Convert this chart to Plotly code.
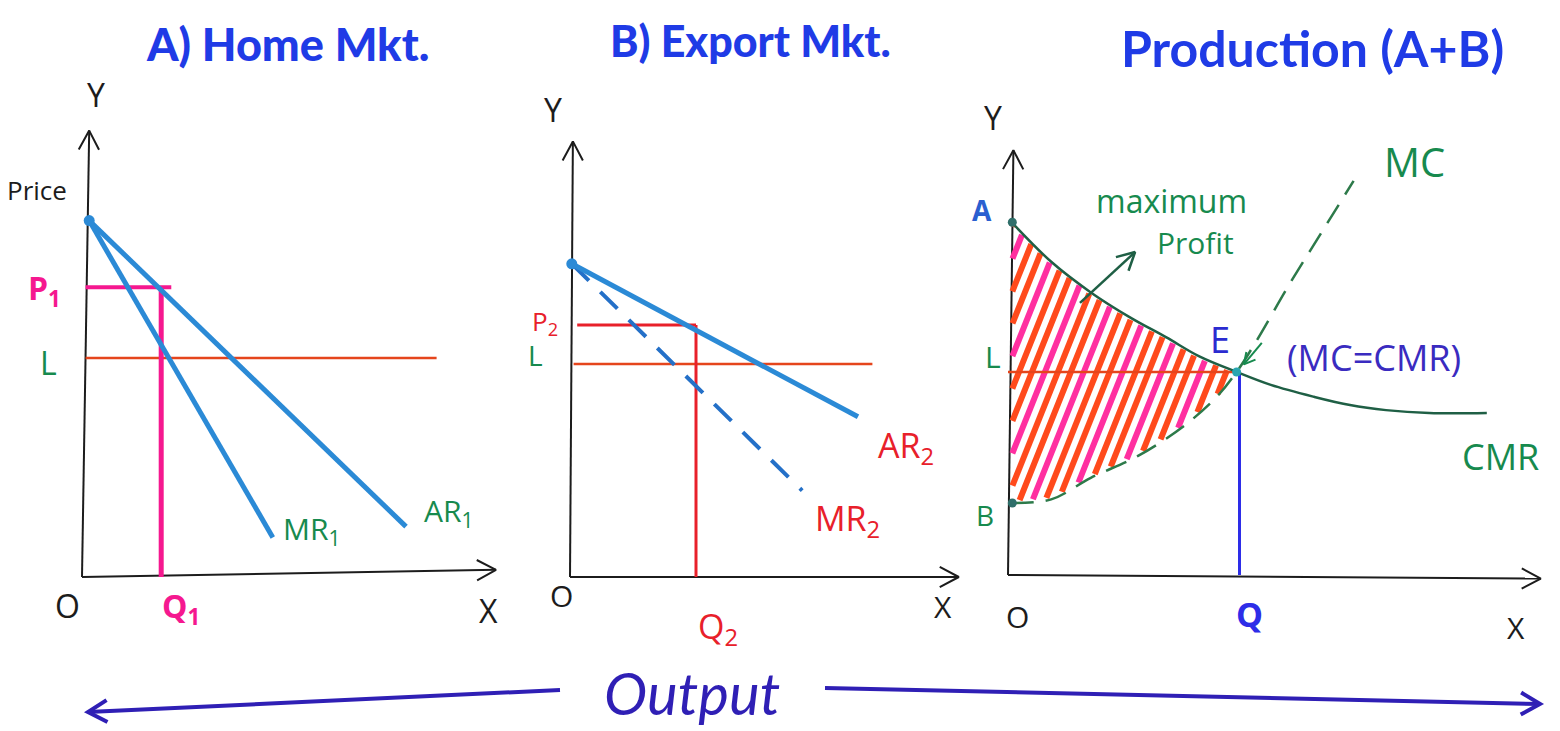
import numpy as np
import plotly.graph_objects as go

W, H = 1560, 731
S = 36.0  # pixels per quantity/price unit, shared by all three panels

# ---------------- A) Home market ----------------
ar1_q = [0.2, 9.0]
ar1_p = [9.9, 1.4]
mr1_q = [0.2, 5.3]
mr1_p = [9.9, 1.1]
q1, p1 = 2.2, 8.05
l_home = 6.08
l_home_q = [0.1, 9.85]

# ---------------- B) Export market ----------------
ar2_q = [0.05, 8.0]
ar2_p = [8.7, 4.45]
mr2_q = [0.05, 6.45]
mr2_p = [8.7, 2.4]
q2, p2 = 3.5, 7.0
l_export = 5.92
l_export_q = [0.1, 8.4]

# ---------------- Production (A+B) ----------------
cmr_q = [0.1, 1.2, 2.3, 3.4, 4.4, 5.3, 6.35, 7.3, 8.5, 9.5, 10.5, 11.7, 13.3]
cmr_p = [9.8, 8.7, 7.85, 7.15, 6.6, 6.08, 5.64, 5.28, 4.95, 4.72, 4.58, 4.5, 4.5]
mc_q = [0.1, 1.2, 2.3, 3.6, 4.9, 5.8, 6.35, 6.9, 7.8, 8.7, 9.6]
mc_p = [2.0, 2.1, 2.7, 3.3, 4.15, 4.95, 5.64, 6.5, 8.05, 9.5, 10.95]
point_a, point_b = 9.8, 2.0
eq_q, eq_p = 6.35, 5.64

# pixel position of each panel's origin
ORIGINS = {"A": (82, 577), "B": (570, 577), "C": (1008, 575)}
AX = {"A": ("x", "y"), "B": ("x2", "y2"), "C": ("x3", "y3")}

BLACK = "#1c1c1c"
TITLE_BLUE = "#1f3be6"
LINE_BLUE = "#2b8ad6"
PINK = "#f5188f"
RED = "#e8202a"
L_RED = "#e5451c"
GREEN = "#178a4e"
DARK_GREEN = "#1f5f45"
HATCH_ORANGE = "#ff4a1c"
HATCH_PINK = "#ff2fa0"
Q_BLUE = "#2d2de8"
PURPLE_BLUE = "#3a2bc0"
OUT_BLUE = "#2f1fb5"

fig = go.Figure()


def line(panel, xs, ys, color, width, dash=None, shape="linear"):
    xa, ya = AX[panel]
    fig.add_trace(go.Scatter(
        x=list(xs), y=list(ys), mode="lines",
        line=dict(color=color, width=width, dash=dash, shape=shape),
        xaxis=xa, yaxis=ya, hoverinfo="skip", showlegend=False))


def dot(panel, x, y, color, size=9):
    xa, ya = AX[panel]
    fig.add_trace(go.Scatter(
        x=[x], y=[y], mode="markers", marker=dict(color=color, size=size),
        xaxis=xa, yaxis=ya, hoverinfo="skip", showlegend=False))


def chevron(panel, tail, tip, color=BLACK, width=2, size=0.6, spread=28):
    """Open V-shaped arrow head at `tip`, pointing away from `tail`."""
    ang = np.arctan2(tip[1] - tail[1], tip[0] - tail[0])
    ends = []
    for sgn in (1, -1):
        a = ang + np.pi + sgn * np.radians(spread)
        ends.append((tip[0] + size * np.cos(a), tip[1] + size * np.sin(a)))
    line(panel, [ends[0][0], tip[0], ends[1][0]], [ends[0][1], tip[1], ends[1][1]], color, width)


def arrow(panel, tail, tip, color=BLACK, width=2, size=0.6):
    line(panel, [tail[0], tip[0]], [tail[1], tip[1]], color, width)
    chevron(panel, tail, tip, color, width, size)


def label(panel, x, y, text, color=BLACK, size=26, family="Open Sans", weight=400):
    xa, ya = AX[panel]
    fig.add_annotation(x=x, y=y, xref=xa, yref=ya, text=text, showarrow=False,
                       xanchor="center", yanchor="middle",
                       font=dict(family=family, size=size, color=color, weight=weight))


# ---------------- axes for every panel ----------------
arrow("A", (0, 0), (0.2, 12.4))
arrow("A", (0, 0), (11.5, 0.2))
arrow("B", (0, 0), (0.08, 12.1))
arrow("B", (0, 0), (10.8, 0.0))
arrow("C", (0, 0), (0.15, 11.8))
arrow("C", (0, 0), (14.8, -0.1))

# ---------------- A) Home market ----------------
line("A", l_home_q, [l_home, l_home], L_RED, 2.5)
line("A", [0.1, q1 + 0.28], [p1, p1], PINK, 4)
line("A", [q1, q1], [p1, 0], PINK, 5)
line("A", ar1_q, ar1_p, LINE_BLUE, 5)
line("A", mr1_q, mr1_p, LINE_BLUE, 5)
dot("A", ar1_q[0], ar1_p[0], LINE_BLUE, 11)

label("A", 0.39, 13.4, "Y", size=32)
label("A", -1.25, 10.75, "Price", size=26)
label("A", -1.03, 7.97, "P<sub>1</sub>", PINK, 32, weight=700)
label("A", -0.94, 5.97, "L", GREEN, 32)
label("A", -0.39, -0.78, "O", size=32)
label("A", 2.75, -0.85, "Q<sub>1</sub>", PINK, 32, weight=700)
label("A", 11.3, -0.92, "X", size=32)
label("A", 6.4, 1.3, "MR<sub>1</sub>", GREEN, 30)
label("A", 10.2, 1.8, "AR<sub>1</sub>", GREEN, 30)

# ---------------- B) Export market ----------------
line("B", l_export_q, [l_export, l_export], L_RED, 2.5)
line("B", [0.2, q2], [p2, p2], RED, 3)
line("B", [q2, q2], [p2, 0], RED, 3)
line("B", mr2_q, mr2_p, "#2470c8", 4, dash="24px,16px")
line("B", ar2_q, ar2_p, LINE_BLUE, 5)
dot("B", ar2_q[0], ar2_p[0], LINE_BLUE, 11)

label("B", -0.47, 13.0, "Y", size=32)
label("B", -0.69, 7.08, "P<sub>2</sub>", RED, 26)
label("B", -0.97, 6.17, "L", GREEN, 28)
label("B", -0.25, -0.5, "O", size=30)
label("B", 4.1, -1.42, "Q<sub>2</sub>", RED, 34)
label("B", 10.36, -0.83, "X", size=30)
label("B", 9.33, 3.61, "AR<sub>2</sub>", RED, 34)
label("B", 7.72, 1.58, "MR<sub>2</sub>", RED, 34)

# ---------------- Production (A+B) ----------------
# diagonal hatching of the profit area between MC (below) and CMR (above)
hatch_slope = 2.5
p_samples = np.linspace(0, 11, 900)
for i, c in enumerate(np.arange(-3.75, 4.2, 0.36)):
    q_line = c + p_samples / hatch_slope
    top = np.interp(q_line, cmr_q, cmr_p)
    bottom = np.interp(q_line, mc_q, mc_p)
    inside = ((q_line >= 0.12) & (q_line <= eq_q - 0.05)
              & (p_samples <= top - 0.05) & (p_samples >= bottom + 0.05))
    if inside.sum() < 2:
        continue
    idx = np.where(inside)[0]
    col = HATCH_PINK if i % 3 == 1 else HATCH_ORANGE
    line("C", [q_line[idx[0]], q_line[idx[-1]]], [p_samples[idx[0]], p_samples[idx[-1]]], col, 6)

line("C", [0.0, eq_q], [eq_p, eq_p], L_RED, 2.5)
line("C", [eq_q + 0.08, eq_q + 0.08], [eq_p, 0], Q_BLUE, 3)
line("C", cmr_q, cmr_p, DARK_GREEN, 2.5, shape="spline")
line("C", mc_q, mc_p, "#2d7a4a", 2.5, dash="22px,12px", shape="spline")
dot("C", 0.12, point_a, "#2f6f6a", 9)
dot("C", 0.12, point_b, "#2f6f6a", 9)
dot("C", eq_q, eq_p, "#2aa6b0", 9)

# pointer from the hatched area to its caption
arrow("C", (2.0, 7.56), (3.53, 8.97), DARK_GREEN, 2.5, size=0.55)
# pointer from the MC = CMR note to E
arrow("C", (7.05, 6.45), (6.55, 5.85), GREEN, 2, size=0.35)

label("C", -0.42, 12.7, "Y", size=32)
label("C", -0.72, 10.14, "A", "#2a5fd0", 28, weight=700)
label("C", -0.64, 1.67, "B", GREEN, 28)
label("C", -0.42, 6.06, "L", GREEN, 30)
label("C", 0.25, -1.14, "O", size=30)
label("C", 6.72, -1.08, "Q", Q_BLUE, 34, weight=700)
label("C", 14.1, -1.47, "X", size=30)
label("C", 5.9, 6.55, "E", "#2b2bd0", 36)
label("C", 10.17, 6.03, "(MC=CMR)", PURPLE_BLUE, 36)
label("C", 11.3, 11.5, "MC", GREEN, 40)
label("C", 13.67, 3.3, "CMR", GREEN, 36)
label("C", 4.55, 10.4, "maximum", GREEN, 32)
label("C", 5.2, 9.25, "Profit", GREEN, 30)

# ---------------- titles and the shared output arrow ----------------
def paper_text(px, py, text, size, color, weight=700, style="normal"):
    fig.add_annotation(x=px / W, y=1 - py / H, xref="paper", yref="paper", text=text,
                       showarrow=False, xanchor="center", yanchor="middle",
                       font=dict(family="Lato", size=size, color=color,
                                 weight=weight, style=style))


paper_text(287, 44, "A) Home Mkt.", 45, TITLE_BLUE, 900)
paper_text(750, 40, "B) Export Mkt.", 43, TITLE_BLUE, 900)
paper_text(1312, 48, "Production (A+B)", 50, TITLE_BLUE, 700)
paper_text(692, 692, "Output", 58, OUT_BLUE, 400, "italic")


def paper_arrow(tail, tip, color, width=3, size=22, spread=30):
    x0, y0 = tail
    x1, y1 = tip
    fig.add_shape(type="line", xref="paper", yref="paper",
                  x0=x0 / W, y0=1 - y0 / H, x1=x1 / W, y1=1 - y1 / H,
                  line=dict(color=color, width=width))
    ang = np.arctan2(y1 - y0, x1 - x0)
    pts = []
    for sgn in (1, -1):
        a = ang + np.pi + sgn * np.radians(spread)
        pts.append((x1 + size * np.cos(a), y1 + size * np.sin(a)))
    path = "M {:.4f},{:.4f} L {:.4f},{:.4f} L {:.4f},{:.4f}".format(
        pts[0][0] / W, 1 - pts[0][1] / H, x1 / W, 1 - y1 / H, pts[1][0] / W, 1 - pts[1][1] / H)
    fig.add_shape(type="path", xref="paper", yref="paper", path=path,
                  line=dict(color=color, width=width))


paper_arrow((560, 690), (88, 712), OUT_BLUE, 4)
paper_arrow((825, 688), (1540, 704), OUT_BLUE, 4)

# ---------------- layout: one overlaid axis pair per panel ----------------
layout = dict(
    width=W, height=H, margin=dict(l=0, r=0, t=0, b=0),
    paper_bgcolor="white", plot_bgcolor="white", showlegend=False,
)
for i, (name, (ox, oy)) in enumerate(ORIGINS.items(), start=1):
    sfx = "" if i == 1 else str(i)
    xa = dict(domain=[0, 1], range=[-ox / S, (W - ox) / S], visible=False,
              showgrid=False, zeroline=False, anchor="y" + sfx)
    ya = dict(domain=[0, 1], range=[-(H - oy) / S, oy / S], visible=False,
              showgrid=False, zeroline=False, anchor="x" + sfx)
    if i > 1:
        xa["overlaying"] = "x"
        ya["overlaying"] = "y"
    layout["xaxis" + sfx] = xa
    layout["yaxis" + sfx] = ya

fig.update_layout(**layout)
fig.write_html("out.html")
